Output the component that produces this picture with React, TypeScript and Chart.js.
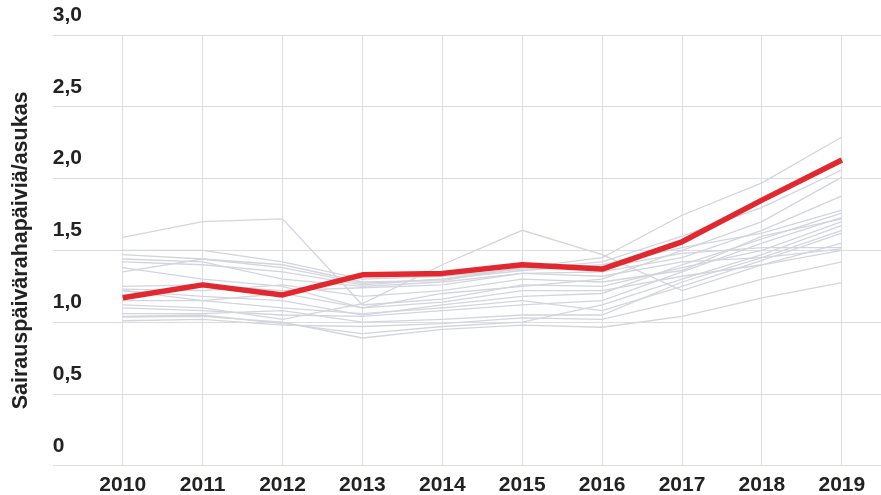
import React, { useEffect, useRef } from "react";
import { Chart, registerables } from "chart.js";

Chart.register(...registerables);

const YEARS = [2010, 2011, 2012, 2013, 2014, 2015, 2016, 2017, 2018, 2019];
const Y_TICKS = [0, 0.5, 1, 1.5, 2, 2.5, 3];
const Y_TITLE = "Sairauspäivärahapäiviä/asukas";

const HIGHLIGHT = [1.17, 1.26, 1.19, 1.33, 1.34, 1.40, 1.37, 1.56, 1.85, 2.13];

const G1 = [1.47, 1.44, 1.38, 1.27, 1.30, 1.38, 1.45, 1.745, 1.97, 2.29];
const G2 = [1.50, 1.50, 1.42, 1.30, 1.32, 1.37, 1.42, 1.60, 1.80, 2.06];
const G3 = [1.38, 1.30, 1.25, 1.10, 1.20, 1.25, 1.30, 1.50, 1.70, 2.01];
const G4 = [1.44, 1.42, 1.30, 1.25, 1.28, 1.34, 1.35, 1.45, 1.64, 1.88];
const G5 = [1.42, 1.40, 1.35, 1.26, 1.30, 1.36, 1.40, 1.52, 1.62, 1.78];
const G6 = [1.22, 1.18, 1.15, 1.05, 1.12, 1.18, 1.20, 1.40, 1.58, 1.76];
const G7 = [1.10, 1.08, 1.05, 1.04, 1.08, 1.12, 1.15, 1.35, 1.55, 1.73];
const G8 = [1.59, 1.70, 1.72, 1.12, 1.16, 1.26, 1.25, 1.38, 1.50, 1.70];
const G9 = [1.04, 1.05, 0.99, 0.92, 0.97, 1.00, 1.12, 1.30, 1.47, 1.675];
const G10 = [1.06, 1.06, 1.08, 1.00, 1.02, 1.05, 1.05, 1.28, 1.45, 1.64];
const G11 = [1.35, 1.44, 1.40, 1.28, 1.29, 1.38, 1.38, 1.48, 1.52, 1.52];
const G12 = [1.25, 1.26, 1.22, 1.24, 1.26, 1.34, 1.32, 1.42, 1.45, 1.51];
const G13 = [1.12, 1.10, 1.02, 1.13, 1.40, 1.64, 1.47, 1.22, 1.40, 1.50];
const G14 = [1.01, 1.02, 0.98, 0.97, 0.99, 1.03, 1.02, 1.15, 1.30, 1.42];
const G15 = [1.035, 1.04, 1.00, 0.89, 0.95, 0.98, 0.965, 1.04, 1.17, 1.275];
const G16 = [1.15, 1.15, 1.20, 1.10, 1.14, 1.22, 1.22, 1.32, 1.40, 1.55];
const G17 = [1.23, 1.22, 1.26, 1.18, 1.22, 1.30, 1.28, 1.36, 1.60, 1.72];
const G18 = [1.22, 1.15, 1.10, 1.06, 1.10, 1.15, 1.08, 1.25, 1.43, 1.62];

const GRAY_SERIES = [G1, G2, G3, G4, G5, G6, G7, G8, G9, G10, G11, G12, G13, G14, G15, G16, G17, G18];

const RED = "#e0282e";
const GRAY_LINE = "#d3d5de";
const GRID = "#dcdde4";
const TEXT = "#222222";
const FONT = "'Liberation Sans', Arial, sans-serif";

function toPoints(values: number[]) {
  return YEARS.map((x, i) => ({ x, y: values[i] }));
}

export default function App() {
  const ref = useRef<HTMLCanvasElement | null>(null);

  useEffect(() => {
    if (!ref.current) return;
    const datasets: any[] = [
      {
        label: "highlight",
        data: toPoints(HIGHLIGHT),
        borderColor: RED,
        borderWidth: 5.5,
        pointRadius: 0,
        tension: 0,
        borderJoinStyle: "round",
      },
      ...GRAY_SERIES.map((s, i) => ({
        label: "g" + i,
        data: toPoints(s),
        borderColor: GRAY_LINE,
        borderWidth: 1.3,
        pointRadius: 0,
        tension: 0,
      })),
    ];

    const chart = new Chart(ref.current, {
      type: "line",
      data: { datasets },
      options: {
        animation: false,
        responsive: false,
        maintainAspectRatio: false,
        layout: { padding: { top: 35, left: 0, right: 0, bottom: -10 } },
        plugins: { legend: { display: false }, tooltip: { enabled: false } },
        scales: {
          x: {
            type: "linear",
            min: 2009.125,
            max: 2019.49,
            afterBuildTicks: (scale: any) => {
              scale.ticks = YEARS.map((v) => ({ value: v }));
            },
            grid: { color: GRID, lineWidth: 1, drawTicks: false },
            border: { display: false },
            ticks: {
              padding: 7,
              color: TEXT,
              font: { family: FONT, size: 21, weight: "bold" },
              callback: (v: any) => String(v),
              maxRotation: 0,
              autoSkip: false,
            },
          },
          y: {
            min: 0,
            max: 3,
            afterBuildTicks: (scale: any) => {
              scale.ticks = Y_TICKS.map((v) => ({ value: v }));
            },
            grid: { color: GRID, lineWidth: 1, drawTicks: false },
            border: { display: false },
            ticks: {
              mirror: true,
              padding: 0,
              labelOffset: -20,
              color: TEXT,
              font: { family: FONT, size: 21, weight: "bold" },
              callback: (v: any) => (v === 0 ? "0" : Number(v).toFixed(1).replace(".", ",")),
            },
            title: {
              display: true,
              text: Y_TITLE,
              color: TEXT,
              font: { family: FONT, size: 21.5, weight: "bold" },
              padding: { top: 8, bottom: 19 },
            },
          },
        },
      },
    });
    return () => chart.destroy();
  }, []);

  return (
    <div style={{ position: "absolute", left: 0, top: 0, width: 881, height: 495, background: "#fff" }}>
      <canvas ref={ref} width={881} height={495} style={{ width: 881, height: 495, display: "block" }} />
    </div>
  );
}
